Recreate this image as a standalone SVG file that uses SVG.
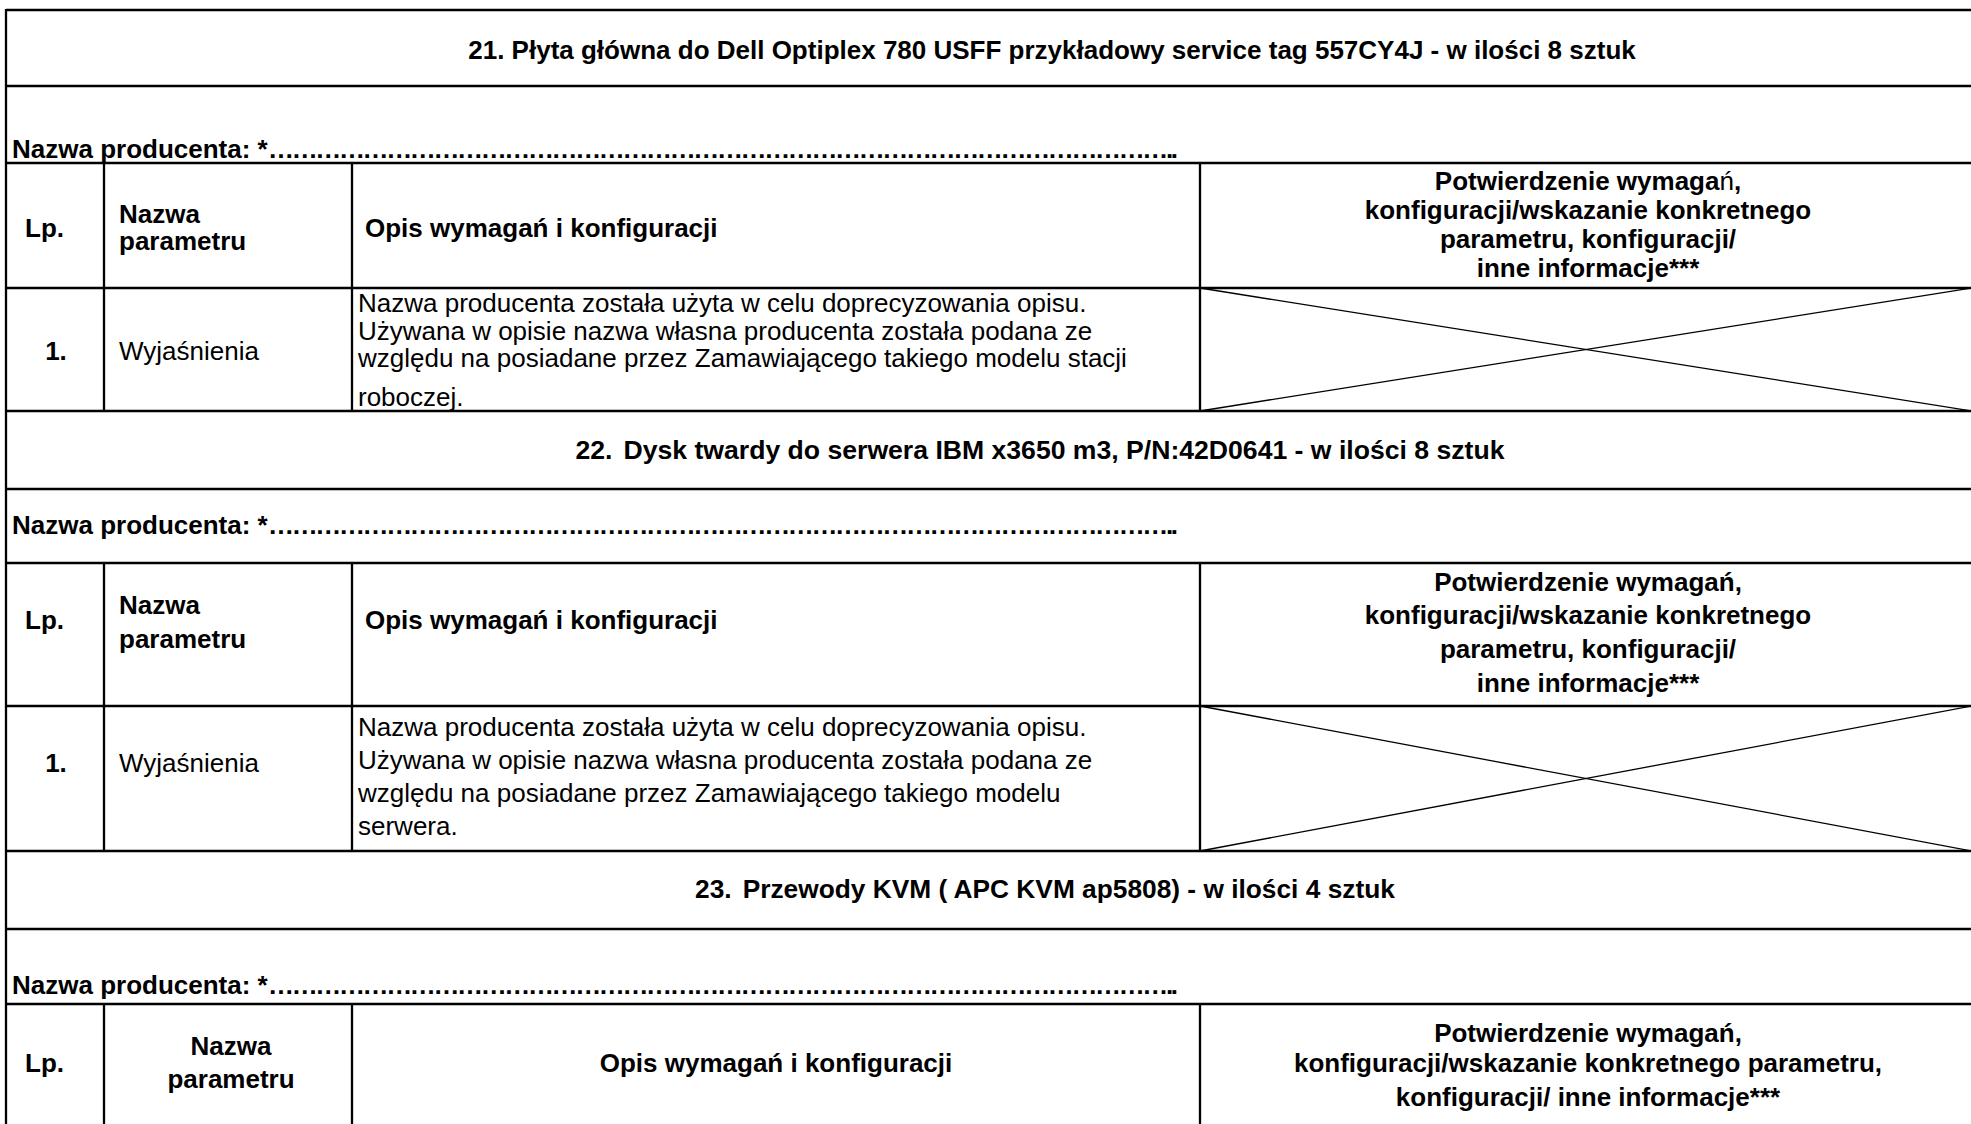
<svg xmlns="http://www.w3.org/2000/svg" width="1971" height="1124" viewBox="0 0 1971 1124">
<style>
text{font-family:"Liberation Sans",Arial,sans-serif;font-size:26px;fill:#000}
.b{font-weight:bold}
.m{text-anchor:middle}
.grid line{stroke:#000;stroke-width:2.3}
.cross line{stroke:#000;stroke-width:1.3}
</style>
<rect x="0" y="0" width="1971" height="1124" fill="#fff"/>
<g id="connectors">
<g class="grid">
<line x1="6" y1="10" x2="1972" y2="10"/>
<line x1="6" y1="86" x2="1972" y2="86"/>
<line x1="6" y1="163" x2="1972" y2="163"/>
<line x1="6" y1="288" x2="1972" y2="288"/>
<line x1="6" y1="411" x2="1972" y2="411"/>
<line x1="6" y1="489" x2="1972" y2="489"/>
<line x1="6" y1="563" x2="1972" y2="563"/>
<line x1="6" y1="706" x2="1972" y2="706"/>
<line x1="6" y1="851" x2="1972" y2="851"/>
<line x1="6" y1="929" x2="1972" y2="929"/>
<line x1="6" y1="1004" x2="1972" y2="1004"/>
<line x1="6" y1="9" x2="6" y2="1124"/>
<line x1="104" y1="163" x2="104" y2="411"/>
<line x1="352" y1="163" x2="352" y2="411"/>
<line x1="1200" y1="163" x2="1200" y2="411"/>
<line x1="104" y1="563" x2="104" y2="851"/>
<line x1="352" y1="563" x2="352" y2="851"/>
<line x1="1200" y1="563" x2="1200" y2="851"/>
<line x1="104" y1="1004" x2="104" y2="1124"/>
<line x1="352" y1="1004" x2="352" y2="1124"/>
<line x1="1200" y1="1004" x2="1200" y2="1124"/>
</g>
<g class="cross">
<line x1="1200" y1="288" x2="1972" y2="411"/>
<line x1="1200" y1="411" x2="1972" y2="288"/>
<line x1="1200" y1="706" x2="1972" y2="851"/>
<line x1="1200" y1="851" x2="1972" y2="706"/>
</g>
</g>

<g id="section21">
<g id="title21"><text class="b m" x="1052" y="59">21. Płyta główna do Dell Optiplex 780 USFF przykładowy service tag 557CY4J - w ilości 8 sztuk</text></g>
<g id="producer21"><text class="b" x="12" y="158">Nazwa producenta: *</text><text class="b" x="268" y="158" textLength="910" lengthAdjust="spacing">……………………………………………………………………………………………………..</text></g>
<g id="header21">
<text class="b" x="25" y="237">Lp.</text>
<text class="b" x="119" y="223">Nazwa</text>
<text class="b" x="119" y="250">parametru</text>
<text class="b" x="365" y="237">Opis wymagań i konfiguracji</text>
<text class="b m" x="1588" y="190">Potwierdzenie wymaga<tspan style="font-weight:normal">ń</tspan>,</text>
<text class="b m" x="1588" y="219">konfiguracji/wskazanie konkretnego</text>
<text class="b m" x="1588" y="248">parametru, konfiguracji/</text>
<text class="b m" x="1588" y="277">inne informacje***</text>
</g>
<g id="row21">
<text class="b m" x="56" y="360">1.</text>
<text x="119" y="360">Wyjaśnienia</text>
<text x="358" y="312">Nazwa producenta została użyta w celu doprecyzowania opisu.</text>
<text x="358" y="340">Używana w opisie nazwa własna producenta została podana ze</text>
<text x="358" y="367">względu na posiadane przez Zamawiającego takiego modelu stacji</text>
<text x="358" y="406">roboczej.</text>
</g>
</g>

<g id="section22">
<g id="title22"><text class="b m" x="1040" y="459" style="font-size:26.6px">22.<tspan dx="11">Dysk twardy do serwera IBM x3650 m3, P/N:42D0641 - w ilości 8 sztuk</tspan></text></g>
<g id="producer22"><text class="b" x="12" y="534">Nazwa producenta: *</text><text class="b" x="268" y="534" textLength="910" lengthAdjust="spacing">……………………………………………………………………………………………………..</text></g>
<g id="header22">
<text class="b" x="25" y="629">Lp.</text>
<text class="b" x="119" y="614">Nazwa</text>
<text class="b" x="119" y="648">parametru</text>
<text class="b" x="365" y="629">Opis wymagań i konfiguracji</text>
<text class="b m" x="1588" y="591">Potwierdzenie wymagań,</text>
<text class="b m" x="1588" y="624">konfiguracji/wskazanie konkretnego</text>
<text class="b m" x="1588" y="658">parametru, konfiguracji/</text>
<text class="b m" x="1588" y="692">inne informacje***</text>
</g>
<g id="row22">
<text class="b m" x="56" y="772">1.</text>
<text x="119" y="772">Wyjaśnienia</text>
<text x="358" y="736">Nazwa producenta została użyta w celu doprecyzowania opisu.</text>
<text x="358" y="769">Używana w opisie nazwa własna producenta została podana ze</text>
<text x="358" y="802">względu na posiadane przez Zamawiającego takiego modelu</text>
<text x="358" y="835">serwera.</text>
</g>
</g>

<g id="section23">
<g id="title23"><text class="b m" x="1045" y="898" style="font-size:26.3px">23.<tspan dx="11">Przewody KVM ( APC KVM ap5808) - w ilości 4 sztuk</tspan></text></g>
<g id="producer23"><text class="b" x="12" y="994">Nazwa producenta: *</text><text class="b" x="268" y="994" textLength="910" lengthAdjust="spacing">……………………………………………………………………………………………………..</text></g>
<g id="header23">
<text class="b" x="25" y="1072">Lp.</text>
<text class="b m" x="231" y="1055">Nazwa</text>
<text class="b m" x="231" y="1088">parametru</text>
<text class="b m" x="776" y="1072">Opis wymagań i konfiguracji</text>
<text class="b m" x="1588" y="1042">Potwierdzenie wymagań,</text>
<text class="b m" x="1588" y="1072">konfiguracji/wskazanie konkretnego parametru,</text>
<text class="b m" x="1588" y="1106">konfiguracji/ inne informacje***</text>
</g>
</g>
</svg>
